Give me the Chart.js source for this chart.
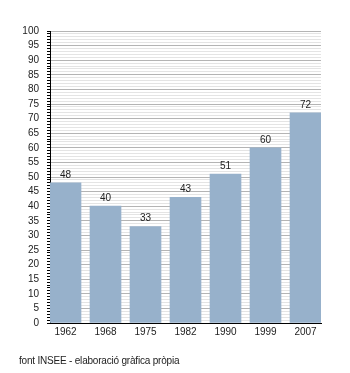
<!DOCTYPE html>
<html>
<head>
<meta charset="utf-8">
<script src="https://cdn.jsdelivr.net/npm/chart.js@4/dist/chart.umd.min.js"></script>
<style>
    body { margin: 0; background: #fff; }
    #wrap { position: relative; width: 350px; height: 373px; }
    #font {
        position: absolute; left: 19px; top: 355px;
        font: 10px "Liberation Sans", Arial, sans-serif; color: #222;
        letter-spacing: -0.2px;
    }
</style>
</head>
<body>
<div id="wrap">
    <canvas id="chart"></canvas>
    <div id="font">font INSEE - elaboració gràfica pròpia</div>
</div>
<script>
// Anys del cens i valors
const years = ['1962', '1968', '1975', '1982', '1990', '1999', '2007'];
const values = [48, 40, 33, 43, 51, 60, 72];
const yTicks = [0, 5, 10, 15, 20, 25, 30, 35, 40, 45, 50, 55, 60, 65, 70, 75, 80, 85, 90, 95, 100];

const barColor = '#97b1cb';
const fontFamily = '"Liberation Sans", Arial, sans-serif';

// Valors a sobre de cada barra
const valueLabels = {
    id: 'valueLabels',
    afterDatasetsDraw(chart) {
        const ctx = chart.ctx;
        const meta = chart.getDatasetMeta(0);
        ctx.save();
        ctx.font = '10px ' + fontFamily;
        ctx.fillStyle = '#222';
        ctx.textAlign = 'center';
        ctx.textBaseline = 'bottom';
        meta.data.forEach((bar, i) => {
            ctx.fillText(String(values[i]), bar.x, bar.y - 3);
        });
        ctx.restore();
    }
};

const ctx = document.getElementById('chart').getContext('2d');
new Chart(ctx, {
    type: 'bar',
    data: {
        datasets: [{
            data: values.map((v, i) => ({ x: i, y: v })),
            backgroundColor: barColor,
            borderWidth: 0,
            barThickness: 31
        }]
    },
    options: {
        responsive: true,
        maintainAspectRatio: false,
        animation: false,
        layout: { padding: { left: 0, right: 29, top: 31, bottom: 30 } },
        plugins: {
            legend: { display: false },
            tooltip: { enabled: false }
        },
        scales: {
            x: {
                type: 'linear',
                offset: false,
                min: -0.3875,
                max: 6.3875,
                grid: { display: false, drawTicks: false },
                border: { display: true, color: '#000', width: 1 },
                afterBuildTicks: (axis) => {
                    axis.ticks = years.map((y, i) => ({ value: i }));
                },
                afterFit: (scale) => { scale.height = 20; },
                ticks: {
                    autoSkip: false,
                    maxRotation: 0,
                    padding: 3,
                    color: '#222',
                    font: { family: fontFamily, size: 10 },
                    callback: (v) => years[v]
                }
            },
            y: {
                min: 0,
                max: 100,
                afterBuildTicks: (axis) => {
                    const t = [];
                    for (let v = 0; v <= 100; v++) t.push({ value: v });
                    axis.ticks = t;
                },
                afterFit: (scale) => { scale.width = 50; },
                grid: {
                    color: (c) => (c.tick && c.tick.value % 5 === 0) ? '#b4b4b4' : '#e4e4e4',
                    tickColor: '#000',
                    tickLength: 3,
                    lineWidth: 1
                },
                border: { display: true, color: '#000', width: 1 },
                ticks: {
                    autoSkip: false,
                    padding: 8,
                    color: '#222',
                    font: { family: fontFamily, size: 10 },
                    callback: (v) => yTicks.includes(v) ? String(v) : ''
                }
            }
        }
    },
    plugins: [valueLabels]
});
</script>
</body>
</html>
